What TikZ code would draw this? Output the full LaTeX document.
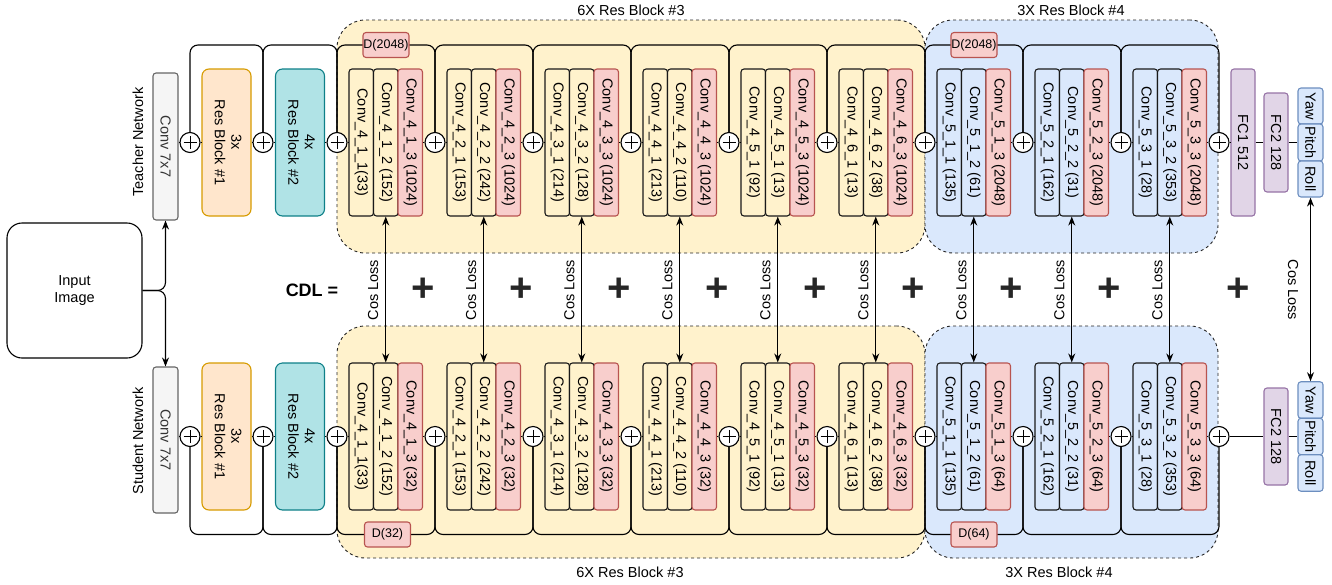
\documentclass[tikz,border=0pt]{standalone}
\usepackage{graphicx}
\usepackage{fontspec}
\setmainfont{Liberation Sans}
\usetikzlibrary{arrows.meta}
\definecolor{yel}{HTML}{FFF2CC}
\definecolor{blu}{HTML}{DAE8FC}
\definecolor{redf}{HTML}{F8CECC}
\definecolor{redd}{HTML}{B85450}
\definecolor{blud}{HTML}{6C8EBF}
\definecolor{purf}{HTML}{E1D5E7}
\definecolor{purd}{HTML}{9673A6}
\definecolor{orf}{HTML}{FFE6CC}
\definecolor{ord}{HTML}{D79B00}
\definecolor{tef}{HTML}{B0E3E6}
\definecolor{ted}{HTML}{0E8088}
\definecolor{gyf}{HTML}{F5F5F5}
\definecolor{gyd}{HTML}{666666}
\definecolor{gyt}{HTML}{333333}
\newcommand\vt[1]{\rotatebox{-90}{#1}}
\newcommand\vtt[1]{\rotatebox{-90}{\begin{tabular}{@{}c@{}}#1\end{tabular}}}
\newcommand\vu[1]{\rotatebox{90}{#1}}
\begin{document}
\begin{tikzpicture}[x=1pt,y=-1pt,line width=1.1pt,
  font=\fontsize{14.5}{16.5}\selectfont,
  conv/.style={draw=black!90,rounded corners=3pt,minimum width=24.5pt,minimum height=147pt,inner sep=0pt},
  redbox/.style={conv,fill=redf,draw=redd},
  plusc/.style={circle,draw=black,fill=white,minimum size=20pt,inner sep=0pt,
    path picture={\draw[line width=1pt] ([xshift=-6.5pt]path picture bounding box.center)--([xshift=6.5pt]path picture bounding box.center)
      ([yshift=-6.5pt]path picture bounding box.center)--([yshift=6.5pt]path picture bounding box.center);}},
  region/.style={draw=black!85,line width=0.9pt,dash pattern=on 3pt off 3pt,rounded corners=28pt,inner sep=0pt},
  dbox/.style={draw=redd,fill=redf,rounded corners=3pt,minimum width=46pt,minimum height=25pt,inner sep=0pt,font=\fontsize{12.5}{14}\selectfont},
  resb/.style={rounded corners=7pt,minimum width=49pt,minimum height=147pt,inner sep=0pt},
  fcbox/.style={draw=purd,fill=purf,rounded corners=3pt,minimum width=24pt,inner sep=0pt},
  ypr/.style={draw=blud,fill=blu,rounded corners=3pt,minimum width=25pt,inner sep=0pt},
  cosarr/.style={{Stealth[length=9pt,width=7pt]}-{Stealth[length=9pt,width=7pt]}},
  onearr/.style={-{Stealth[length=9pt,width=7pt]}},
  bigplus/.style={font=\fontsize{40}{40}\selectfont\bfseries,text=black!85,inner sep=0pt}
]
\useasboundingbox (0,0) rectangle (1332,584);

% regions
\node[region,fill=yel,minimum width=588pt,minimum height=233pt] (TR3) at (631,136.5) {};
\node[region,fill=blu,minimum width=293pt,minimum height=233pt] (TR4) at (1071.5,136.5) {};
\node[region,fill=yel,minimum width=588pt,minimum height=232pt] (SR3) at (631,442) {};
\node[region,fill=blu,minimum width=293pt,minimum height=232pt] (SR4) at (1071.5,442) {};
\node (TL3) at (631,10) {6X Res Block \#3};
\node (TL4) at (1071,10) {3X Res Block \#4};
\node (SL3) at (630,572) {6X Res Block \#3};
\node (SL4) at (1059,572) {3X Res Block \#4};

% skip connections
\foreach \j/\x in {0/190,1/263,2/337,3/435,4/533,5/631,6/729,7/827,8/925,9/1023,10/1121,11/1219}{
  \coordinate (T\j) at (\x,142.5);
  \coordinate (S\j) at (\x,436.5);
}
\foreach \j in {0,...,10}{
  \pgfmathtruncatemacro\n{\j+1}
  \draw[rounded corners=8pt] (T\j) -- (T\j |- 0,45) -- (T\n |- 0,45) -- (T\n);
  \draw[rounded corners=8pt] (S\j) -- (S\j |- 0,534.5) -- (S\n |- 0,534.5) -- (S\n);
}
% plus circles
\foreach \j/\x in {0/190,1/263,2/337,3/435,4/533,5/631,6/729,7/827,8/925,9/1023,10/1121,11/1219}{
  \node[plusc] (T\j) at (\x,142.5) {};
  \node[plusc] (S\j) at (\x,436.5) {};
}

% labels and input
\node (TN) at (138,142) {\vu{Teacher Network}};
\node (SN) at (138,441) {\vu{Student Network}};
\node[draw=black,rounded corners=15pt,minimum width=135pt,minimum height=135pt,align=center] (IN) at (74.5,290.5) {Input\\Image};
\node[draw=gyd,fill=gyf,rounded corners=3pt,minimum width=25pt,minimum height=147pt,inner sep=0pt,text=gyt] (TC) at (165.5,146.5) {\vt{Conv 7x7}};
\node[draw=gyd,fill=gyf,rounded corners=3pt,minimum width=25pt,minimum height=146pt,inner sep=0pt,text=gyt] (SC) at (165.5,440) {\vt{Conv 7x7}};
\draw[onearr,rounded corners=8pt] (IN.east) -- (165.5,290.5) -- (TC.south);
\draw[onearr,rounded corners=8pt] (IN.east) -- (165.5,290.5) -- (SC.north);

% res blocks 1 & 2
\node[resb,draw=ord,fill=orf] (TB1) at (226.5,142.5) {\vtt{3x\\Res Block \#1}};
\node[resb,draw=ted,fill=tef] (TB2) at (300,142.5) {\vtt{4x\\Res Block \#2}};
\node[resb,draw=ord,fill=orf] (SB1) at (226.5,436.5) {\vtt{3x\\Res Block \#1}};
\node[resb,draw=ted,fill=tef] (SB2) at (300,436.5) {\vtt{4x\\Res Block \#2}};
\draw (TC.east |- T0.west) -- (T0.west) (T0.east) -- (TB1.west) (TB1.east) -- (T1.west) (T1.east) -- (TB2.west) (TB2.east) -- (T2.west);
\draw (SC.east |- S0.west) -- (S0.west) (S0.east) -- (SB1.west) (SB1.east) -- (S1.west) (S1.east) -- (SB2.west) (SB2.east) -- (S2.west);

% conv blocks
\foreach \k/\s/\i/\la/\lb in {
0/4/1/{1(33)}/{2\ (152)},
1/4/2/{1\ (153)}/{2\ (242)},
2/4/3/{1\ (214)}/{2\ (128)},
3/4/4/{1\ (213)}/{2\ (110)},
4/4/5/{1\ (92)}/{1\ (13)},
5/4/6/{1\ (13)}/{2\ (38)},
6/5/1/{1\ (135)}/{2\ (61)},
7/5/2/{1\ (162)}/{2\ (31)},
8/5/3/{1\ (28)}/{2\ (353)}}{
  \ifnum\s=4 \def\fc{yel}\def\tpar{(1024)}\def\spar{(32)}\else\def\fc{blu}\def\tpar{(2048)}\def\spar{(64)}\fi
  \pgfmathsetmacro\xa{349+98*\k+12.25}
  \pgfmathtruncatemacro\ci{\k+2}
  \pgfmathtruncatemacro\co{\k+3}
  \node[conv,fill=\fc] (Ta\k) at (\xa,142.5) {\vt{Conv\_\s\_\i\_\la}};
  \node[conv,fill=\fc] (Tb\k) at (\xa+24.5,142.5) {\vt{Conv\_\s\_\i\_\lb}};
  \node[redbox] (Tc\k) at (\xa+49,142.5) {\vt{Conv\_\s\_\i\_3 \tpar}};
  \node[conv,fill=\fc] (Sa\k) at (\xa,436.5) {\vt{Conv\_\s\_\i\_\la}};
  \node[conv,fill=\fc] (Sb\k) at (\xa+24.5,436.5) {\vt{Conv\_\s\_\i\_\lb}};
  \node[redbox] (Sc\k) at (\xa+49,436.5) {\vt{Conv\_\s\_\i\_3 \spar}};
  \draw (T\ci.east) -- (Ta\k.west) (Tc\k.east) -- (T\co.west);
  \draw (S\ci.east) -- (Sa\k.west) (Sc\k.east) -- (S\co.west);
  \draw[cosarr] (Tb\k.south) -- (Sb\k.north);
  \node (CL\k) at (\xa+12,290) {\vu{Cos Loss}};
}

% D boxes
\node[dbox] (TD3) at (386,45) {D(2048)};
\node[dbox] (TD4) at (974,45) {D(2048)};
\node[dbox] (SD3) at (387.5,534.5) {D(32)};
\node[dbox] (SD4) at (974,534.5) {D(64)};

% heads
\node[fcbox,minimum height=147pt] (TF1) at (1243,142.5) {\vt{FC1 512}};
\node[fcbox,minimum height=99pt] (TF2) at (1276,142.5) {\vt{FC2 128}};
\node[ypr,minimum height=36pt] (TY) at (1310.5,106) {\vt{Yaw}};
\node[ypr,minimum height=37pt] (TP) at (1310.5,142.5) {\vt{Pitch}};
\node[ypr,minimum height=36pt] (TRl) at (1310.5,179) {\vt{Roll}};
\node[fcbox,minimum height=97pt] (SF2) at (1276,436.5) {\vt{FC2 128}};
\node[ypr,minimum height=36.5pt] (SY) at (1310.5,400) {\vt{Yaw}};
\node[ypr,minimum height=36.5pt] (SP) at (1310.5,436.5) {\vt{Pitch}};
\node[ypr,minimum height=36.5pt] (SRl) at (1310.5,473) {\vt{Roll}};
\draw (T11.east) -- (TF1.west) (TF1.east) -- (TF2.west) (TF2.east) -- (TP.west);
\draw (S11.east) -- (SF2.west) (SF2.east) -- (SP.west);
\draw[cosarr] (TRl.south) -- (SY.north);
\node (CLF) at (1293,290) {\vt{Cos Loss}};

% CDL
\node[font=\fontsize{18}{20}\selectfont\bfseries] (CDL) at (312,290) {CDL =};
\foreach \j/\x in {0/423,1/521,2/619,3/717,4/815,5/913,6/1011,7/1109,8/1238}{
  \node[bigplus] (P\j) at (\x,290) {+};
}
\end{tikzpicture}
\end{document}
